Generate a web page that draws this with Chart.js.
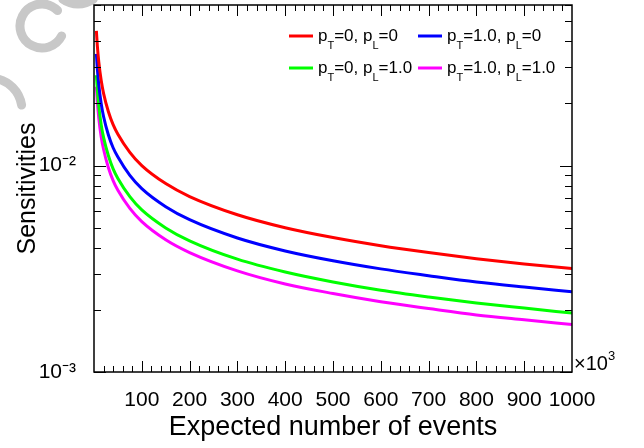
<!DOCTYPE html>
<html>
<head>
<meta charset="utf-8">
<script src="https://cdn.jsdelivr.net/npm/chart.js@4.4.1/dist/chart.umd.min.js"></script>
<style>
  html, body { margin: 0; padding: 0; background: #fff; }
  #wrap { width: 644px; height: 448px; }
</style>
</head>
<body>
<div id="wrap"><canvas id="sens" width="644" height="448"></canvas></div>
<script>
// expected number of events (x10^3)
const events = [5, 7, 10, 15, 20, 30, 40, 50, 75, 100, 150, 200, 300, 400, 500, 600, 700, 800, 900, 1000];

// sensitivities
const redVals     = [0.0450, 0.0380, 0.0318, 0.0259, 0.0224, 0.0183, 0.0158, 0.0142, 0.0116, 0.0100, 0.00818, 0.00708, 0.00578, 0.00500, 0.00448, 0.00409, 0.00379, 0.00354, 0.00334, 0.00317];
const blueVals    = [0.0348, 0.0294, 0.0246, 0.0200, 0.0173, 0.0141, 0.0122, 0.0110, 0.00896, 0.00773, 0.00632, 0.00547, 0.00446, 0.00386, 0.00346, 0.00316, 0.00293, 0.00273, 0.00258, 0.00245];
const greenVals   = [0.0274, 0.0232, 0.0194, 0.0158, 0.0137, 0.0112, 0.00964, 0.00866, 0.00707, 0.00610, 0.00499, 0.00432, 0.00352, 0.00305, 0.00273, 0.00249, 0.00231, 0.00216, 0.00204, 0.00193];
const magentaVals = [0.0241, 0.0203, 0.0170, 0.0138, 0.0120, 0.00979, 0.00845, 0.00759, 0.00620, 0.00535, 0.00437, 0.00379, 0.00309, 0.00267, 0.00240, 0.00219, 0.00203, 0.00189, 0.00179, 0.00170];

// legend labels: [p, sub, rest, sub, rest]
const seriesNames = [
    ['p', 'T', '=0, p', 'L', '=0'],
    ['p', 'T', '=1.0, p', 'L', '=0'],
    ['p', 'T', '=0, p', 'L', '=1.0'],
    ['p', 'T', '=1.0, p', 'L', '=1.0']
];
const seriesColors = ['#ff0000', '#0000ff', '#00ff00', '#ff00ff'];

const yTicks = [0.001, 0.002, 0.003, 0.004, 0.005, 0.006, 0.007, 0.008, 0.009,
                0.01, 0.02, 0.03, 0.04, 0.05, 0.06];
const yLabels = { 0.001: '10\u207B\u00B3', 0.01: '10\u207B\u00B2' };

const FONT = '"Liberation Sans", Arial, sans-serif';

const pts = (vals) => events.map((e, i) => ({ x: e, y: vals[i] }));

const makeSet = (i, vals) => ({
    label: seriesNames[i].join(''),
    data: pts(vals),
    borderColor: seriesColors[i],
    backgroundColor: seriesColors[i],
    borderWidth: 3,
    pointRadius: 0,
    cubicInterpolationMode: 'monotone',
    names: seriesNames[i]
});

// inward ticks on all four sides + frame
const frameTicks = {
    id: 'frameTicks',
    afterDatasetsDraw(chart) {
        const { ctx, chartArea: a, scales } = chart;
        const xs = scales.x, ys = scales.y;
        ctx.save();
        ctx.strokeStyle = '#000';
        ctx.lineWidth = 1;
        ctx.beginPath();
        for (let v = 20; v < 1000; v += 20) {
            const px = Math.round(xs.getPixelForValue(v)) + 0.5;
            const len = v % 100 === 0 ? 11 : 6;
            ctx.moveTo(px, a.bottom); ctx.lineTo(px, a.bottom - len);
            ctx.moveTo(px, a.top); ctx.lineTo(px, a.top + len);
        }
        yTicks.forEach(v => {
            const py = Math.round(ys.getPixelForValue(v)) + 0.5;
            const len = yLabels[v] ? 12 : 7;
            ctx.moveTo(a.left, py); ctx.lineTo(a.left + len, py);
            ctx.moveTo(a.right, py); ctx.lineTo(a.right - len, py);
        });
        ctx.stroke();
        ctx.lineWidth = 1.5;
        ctx.strokeRect(a.left, a.top, a.right - a.left, a.bottom - a.top);

        // x10^3 multiplier
        ctx.fillStyle = '#000';
        ctx.textBaseline = 'alphabetic';
        ctx.font = '20px ' + FONT;
        ctx.fillText('\u00D710', a.right + 2, a.bottom - 2);
        const w = ctx.measureText('\u00D710').width;
        ctx.font = '13px ' + FONT;
        ctx.fillText('3', a.right + 2 + w, a.bottom - 12);
        ctx.restore();
    }
};

// legend with subscripts
const subLegend = {
    id: 'subLegend',
    afterDraw(chart) {
        const { ctx } = chart;
        const cols = [289, 418];
        const rows = [36, 68];
        ctx.save();
        chart.data.datasets.forEach((ds, i) => {
            const x = cols[i % 2], y = rows[Math.floor(i / 2)];
            ctx.strokeStyle = ds.borderColor;
            ctx.lineWidth = 3;
            ctx.beginPath();
            ctx.moveTo(x, y); ctx.lineTo(x + 24, y);
            ctx.stroke();
            let tx = x + 29;
            ctx.fillStyle = '#000';
            ctx.textBaseline = 'alphabetic';
            ds.names.forEach((part, k) => {
                const sub = k % 2 === 1;
                ctx.font = (sub ? '11px ' : '17px ') + FONT;
                ctx.fillText(part, tx, sub ? y + 13 : y + 5);
                tx += ctx.measureText(part).width;
            });
        });
        ctx.restore();
    }
};

// faint logo marks in the top left corner
const watermark = {
    id: 'watermark',
    beforeDraw(chart) {
        const { ctx } = chart;
        ctx.save();
        ctx.strokeStyle = '#c8c8c8';
        ctx.lineCap = 'round';
        ctx.lineWidth = 9;
        ctx.beginPath();
        ctx.arc(42, 26, 22, 0.15 * Math.PI, 1.75 * Math.PI);
        ctx.stroke();
        ctx.beginPath();
        ctx.arc(-10, 110, 32, 1.55 * Math.PI, 1.95 * Math.PI);
        ctx.stroke();
        ctx.beginPath();
        ctx.arc(78, -22, 26, 0.3 * Math.PI, 0.7 * Math.PI);
        ctx.stroke();
        ctx.restore();
    }
};

new Chart(document.getElementById('sens'), {
    type: 'line',
    data: {
        datasets: [
            makeSet(0, redVals),
            makeSet(1, blueVals),
            makeSet(2, greenVals),
            makeSet(3, magentaVals)
        ]
    },
    options: {
        responsive: false,
        animation: false,
        layout: { padding: { left: 0, top: 5, right: 72, bottom: 0 } },
        plugins: { legend: { display: false }, tooltip: { enabled: false } },
        scales: {
            x: {
                type: 'linear',
                min: 0,
                max: 1000,
                grid: { display: false, drawTicks: false },
                border: { display: false },
                afterFit: s => { s.height = 76; s.paddingLeft = 0; s.paddingRight = 0; },
                ticks: {
                    stepSize: 100,
                    padding: 16,
                    color: '#000',
                    font: { family: FONT, size: 21 },
                    maxRotation: 0,
                    autoSkip: false,
                    callback: v => (v === 0 ? '' : v)
                },
                title: {
                    display: true,
                    text: 'Expected number of events',
                    color: '#000',
                    font: { family: FONT, size: 27 },
                    padding: { top: 0, bottom: 4 }
                }
            },
            y: {
                type: 'logarithmic',
                min: 0.001,
                max: 0.06,
                grid: { display: false, drawTicks: false },
                border: { display: false },
                afterFit: s => { s.width = 94; s.paddingTop = 0; s.paddingBottom = 0; },
                afterBuildTicks: s => { s.ticks = yTicks.map(v => ({ value: v })); },
                ticks: {
                    padding: 18,
                    color: '#000',
                    font: { family: FONT, size: 21 },
                    autoSkip: false,
                    callback: v => yLabels[v] || ''
                },
                title: {
                    display: true,
                    text: 'Sensitivities',
                    color: '#000',
                    font: { family: FONT, size: 25 },
                    padding: { top: 13, bottom: 0 }
                }
            }
        }
    },
    plugins: [watermark, frameTicks, subLegend]
});
</script>
</body>
</html>
